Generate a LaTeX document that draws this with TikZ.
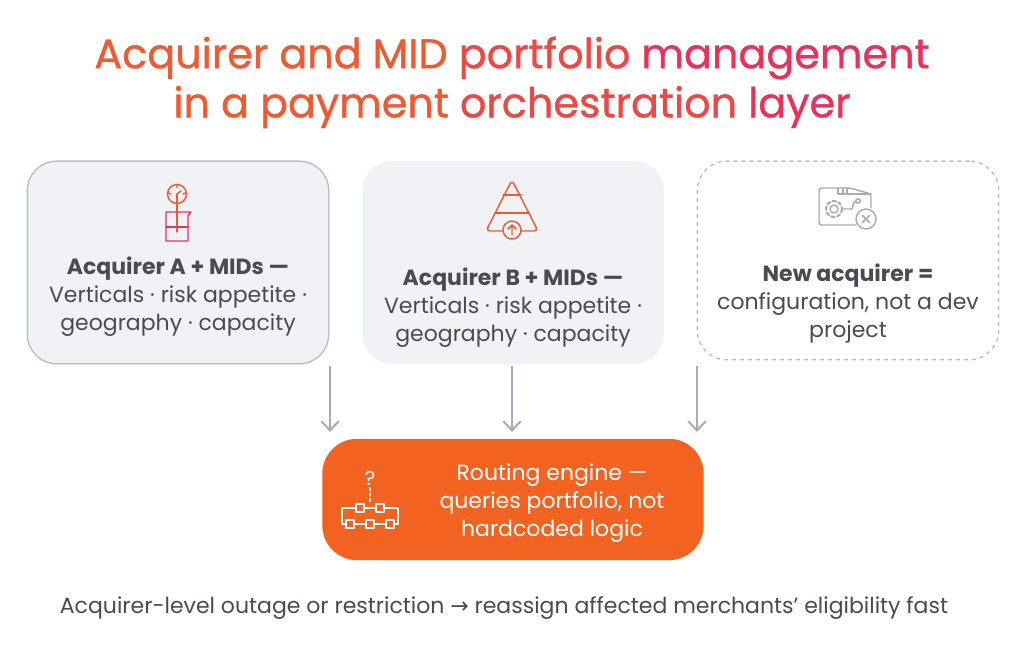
\documentclass[tikz,border=0pt]{standalone}
\usepackage{fontspec}
\setmainfont{Poppins}
\newfontfamily\symfont{DejaVu Sans}
\newfontfamily\titlefont[FakeBold=0.8]{Poppins}
\usetikzlibrary{positioning}
\usetikzlibrary{arrows.meta}
\definecolor{ttlorange}{HTML}{EE5A32}
\definecolor{ttlmid}{HTML}{EB4846}
\definecolor{ttlpink}{HTML}{E6335E}
\definecolor{boxgrey}{HTML}{F1F2F6}
\definecolor{edgegrey}{HTML}{B9BBC9}
\definecolor{txtgrey}{HTML}{4A4A55}
\definecolor{engine}{HTML}{F26322}
\definecolor{icongrey}{HTML}{A9ABBA}
\tikzset{
  card/.style={rounded corners=22pt, minimum width=226pt, minimum height=152pt, inner sep=0pt},
  cardtxt/.style={text=txtgrey, align=center, font=\fontsize{16.5}{21}\selectfont},
  flow/.style={->, draw=icongrey, line width=1.5pt, >={Straight Barb[length=7pt,width=13pt]}},
  ico/.style={line width=1.1pt, line cap=round, line join=round}
}
\begin{document}
\begin{tikzpicture}[x=0.75pt,y=-0.75pt]
  \useasboundingbox (0,0) rectangle (1024,648);
  \fill[white] (0,0) rectangle (1024,648);

  % title
  \node (title1) at (512,58) {\fontsize{31}{36}\titlefont\color{ttlorange}Acquirer and MID \color{ttlmid}portfolio \color{ttlpink}management};
  \node (title2) at (512,107) {\fontsize{31}{36}\titlefont\color{ttlorange}in a payment \color{ttlmid}orchestration \color{ttlpink}layer};

  % cards
  \node[card, fill=boxgrey, draw=edgegrey, line width=1pt] (acqA) at (178,262.5) {};
  \node[card, fill=boxgrey] (acqB) at (513,262.5) {};
  \node[card, fill=white, draw=edgegrey, dashed, line width=1pt,
        minimum height=149pt] (newacq) at (848,260.5) {};

  \node[cardtxt] (txtA) at (178,297) {\textbf{Acquirer A + MIDs —}\\Verticals · risk appetite ·\\geography · capacity};
  \node[cardtxt] (txtB) at (513,308) {\textbf{Acquirer B + MIDs —}\\Verticals · risk appetite ·\\geography · capacity};
  \node[cardtxt] (txtC) at (848,304) {\textbf{New acquirer =}\\configuration, not a dev\\project};

  % icon A: clock on beaker
  \begin{scope}[ico, draw=ttlorange]
    \draw (177,194) circle (9.5);
    \draw (177,184.5) -- (177,187.5) (168,193) -- (171,194) (186,193) -- (183,194) (177,194) -- (181,191);
    \draw (177,194) -- (177,232);
    \draw[draw=ttlpink] (166,212) -- (166,241) -- (188,241) -- (188,216) -- (191,212) -- cycle;
    \draw[draw=ttlpink] (166,227) -- (188,227);
  \end{scope}

  % icon B: pyramid with arrow
  \begin{scope}[ico, draw=ttlorange]
    \draw[rounded corners=3pt] (503,231) -- (486,231) -- (512,180) -- (538,231) -- (521,231);
    \draw (503,195) -- (521,195) (495,213) -- (529,213);
    \draw (512,230) circle (9);
    \draw (512,235) -- (512,225) (508,229) -- (512,225) -- (516,229);
  \end{scope}

  % icon C: folder with gear and x
  \begin{scope}[ico, draw=icongrey]
    \draw[rounded corners=2pt] (856,225) -- (819,225) -- (819,188) -- (850,188) -- (871,194) -- (871,208);
    \draw (838,188) -- (838,194) -- (871,194);
    \draw (843,188) -- (843,194) (847,188) -- (847,194);
    \draw (834,209) circle (4);
    \draw[line width=1.6pt, dash pattern=on 2.5pt off 2pt] (834,209) circle (8);
    \draw (842,209) -- (852,209) -- (854,202) -- (856,202);
    \draw (858,201) circle (2.2);
    \draw[fill=white] (866,219) circle (10);
    \draw (862.5,215.5) -- (869.5,222.5) (869.5,215.5) -- (862.5,222.5);
  \end{scope}

  % routing engine
  \node[rounded corners=26pt, fill=engine, minimum width=286pt, minimum height=91pt] (engine) at (513,499.5) {};
  \node[text=white, align=center, font=\fontsize{16.5}{21}\selectfont] (enginetxt) at (552,503) {Routing engine —\\queries portfolio, not\\hardcoded logic};
  \begin{scope}[ico, draw=white]
    \node[text=white, font=\fontsize{15}{15}\selectfont] (qmark) at (370,478) {?};
    \draw[dash pattern=on 2pt off 2pt] (370,488) -- (370,502);
    \draw (342,508) -- (342,524) (398,508) -- (398,524);
    \draw (342,508) -- (356,508) (364,508) -- (376,508) (384,508) -- (398,508);
    \draw (356,504) rectangle (364,512) (376,504) rectangle (384,512);
    \draw (342,524) -- (346,524) (354,524) -- (366,524) (374,524) -- (386,524) (394,524) -- (398,524);
    \draw (346,520) rectangle (354,528) (366,520) rectangle (374,528) (386,520) rectangle (394,528);
  \end{scope}

  % arrows
  \coordinate (endA) at (330,432);
  \coordinate (endB) at (512,432);
  \coordinate (endC) at (697,432);
  \draw[flow] (330,366) -- (endA);
  \draw[flow] (512,366) -- (endB);
  \draw[flow] (697,366) -- (endC);

  % footer
  \node[text=txtgrey, font=\fontsize{16.5}{18}\selectfont] (footer) at (504,608) {Acquirer-level outage or restriction {\symfont →} reassign affected merchants’ eligibility fast};
\end{tikzpicture}
\end{document}
